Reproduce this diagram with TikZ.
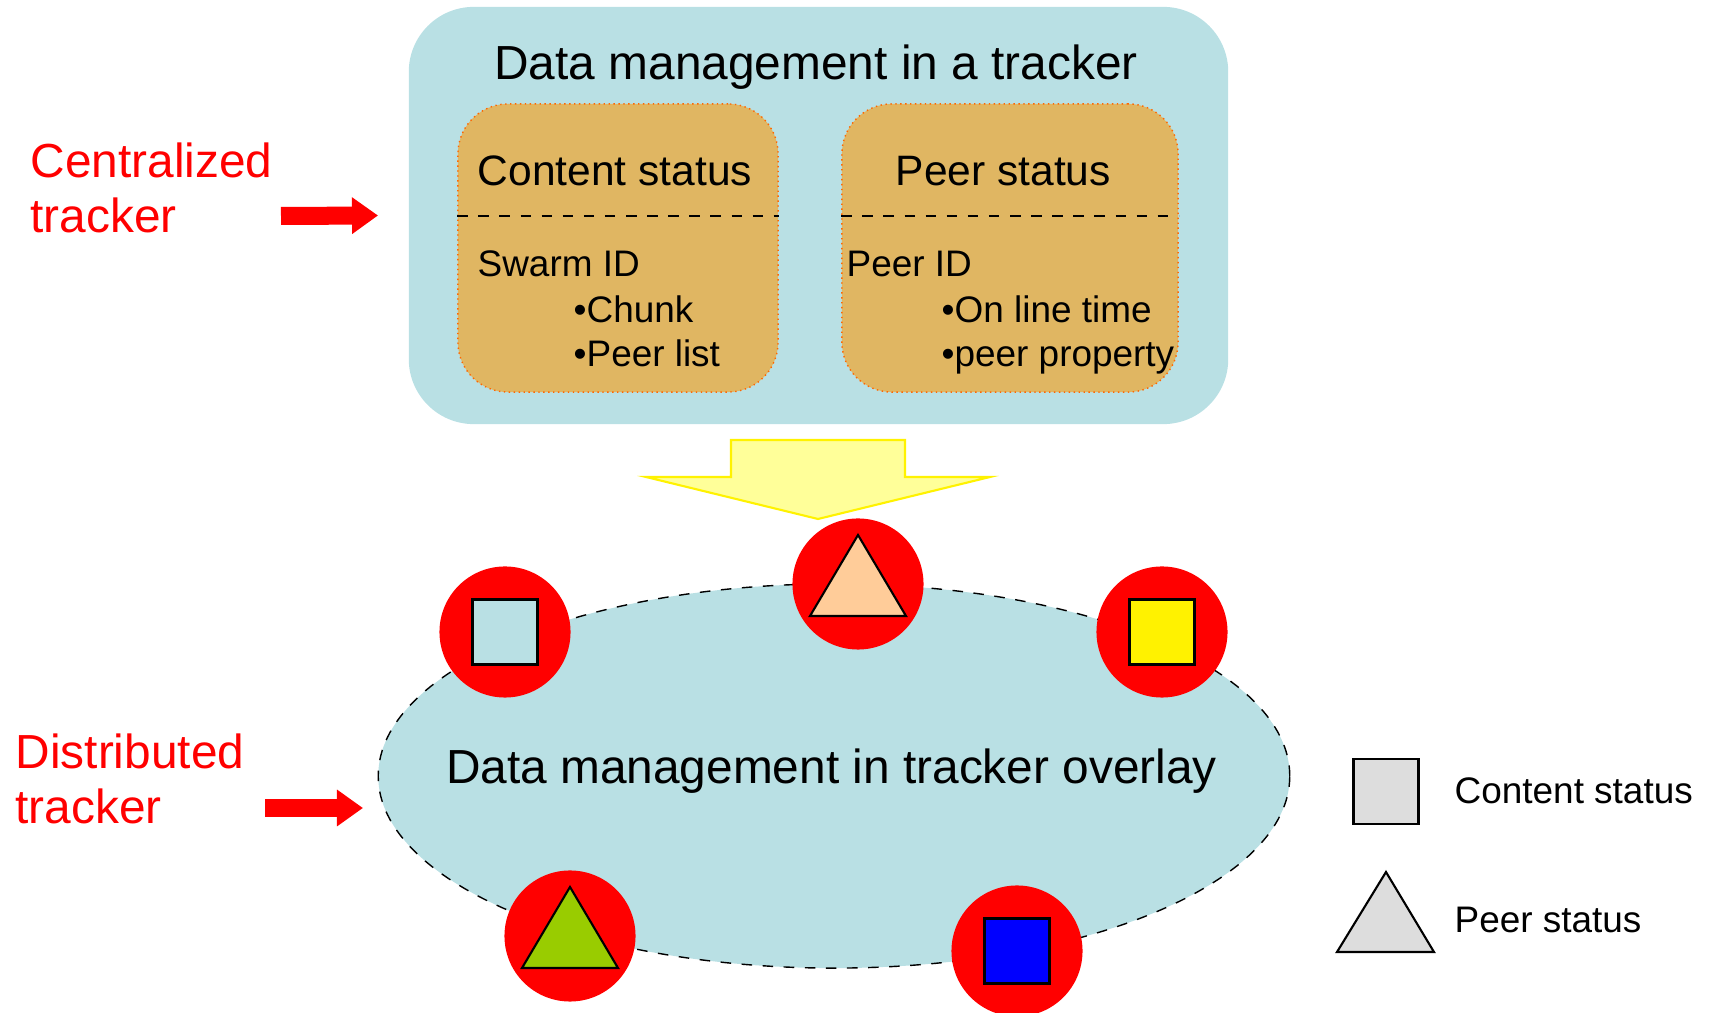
\documentclass[tikz,border=0pt]{standalone}
\usepackage{fontspec}
\setmainfont{Liberation Sans}
\usetikzlibrary{arrows.meta,shapes.geometric}
\usepackage{xcolor}
\definecolor{trackblue}{RGB}{185,224,228}
\definecolor{statustan}{RGB}{224,182,98}
\definecolor{edgeorange}{RGB}{255,102,0}
\definecolor{lightyellow}{RGB}{255,255,153}
\definecolor{peach}{RGB}{255,204,153}
\definecolor{leafgreen}{RGB}{153,204,0}
\definecolor{legendgray}{RGB}{221,221,221}

\begin{document}
\begin{tikzpicture}[x=0.01cm,y=-0.01cm,
		bigtext/.style={font=\fontsize{13.6}{15.6}\selectfont, inner sep=0},
		midtext/.style={font=\fontsize{12.1}{14.5}\selectfont, inner sep=0},
		smalltext/.style={font=\fontsize{10.5}{12.6}\selectfont, inner sep=0},
		statusbox/.style={fill=statustan, draw=edgeorange, densely dotted, thin, rounded corners=0.5cm, minimum height=2.88cm, inner sep=0},
		peer/.style={circle, fill=red, minimum size=1.31cm, inner sep=0},
		mark square/.style={draw=black, line width=0.6pt, minimum size=0.65cm, inner sep=0},
		mark tri/.style={draw=black, line width=0.6pt},
		redarrow/.style={red, line width=0.18cm, -{Triangle[length=0.26cm,width=0.35cm]}}]
		\useasboundingbox (0,0) rectangle (1711,1013);
		\node[fill=trackblue, rounded corners=0.65cm, minimum width=8.19cm, minimum height=4.17cm, inner sep=0] (tracker) at (818.5,215.5) {};
		\node[statusbox, minimum width=3.2cm] (content) at (618,248) {};
		\node[statusbox, minimum width=3.36cm] (peerbox) at (1010,248) {};
		\draw[dashed] (content.west |- 0,216) -- (content.east |- 0,216);
		\draw[dashed] (peerbox.west |- 0,216) -- (peerbox.east |- 0,216);
		\node[bigtext, anchor=base] (title) at (816,80) {Data management in a tracker};
		\node[midtext, anchor=base west] (ctitle) at (477,186) {Content status};
		\node[midtext, anchor=base west] (ptitle) at (895,186) {Peer status};
		\node[smalltext, anchor=base west] (swarm) at (477,277) {Swarm ID};
		\node[smalltext, anchor=base west] (chunk) at (573,323) {•Chunk};
		\node[smalltext, anchor=base west] (plist) at (573,367) {•Peer list};
		\node[smalltext, anchor=base west] (peerid) at (846,277) {Peer ID};
		\node[smalltext, anchor=base west] (online) at (941,323) {•On line time};
		\node[smalltext, anchor=base west] (prop) at (941,367) {•peer property};

		\draw[yellow, line width=0.6pt, fill=lightyellow] (731,440) -- (905,440) -- (905,477) -- (990,477) -- (818,519) -- (646,477) -- (731,477) -- cycle;

		\node[ellipse, fill=trackblue, draw=black, dashed, thin, minimum width=9.11cm, minimum height=3.84cm, inner sep=0] (overlay) at (834,776) {};
		\node[bigtext, anchor=base] (otext) at (831.5,784) {Data management in tracker overlay};

		\node[peer] (n1) at (505,632) {};
		\node[peer] (n2) at (858,584) {};
		\node[peer] (n3) at (1162,632) {};
		\node[peer] (n4) at (570,936) {};
		\node[peer] (n5) at (1017,951) {};
		\node[mark square, fill=trackblue] (s1) at (n1) {};
		\node[mark square, fill=yellow] (s3) at (n3) {};
		\node[mark square, fill=blue] (s5) at (n5) {};
		\draw[mark tri, fill=peach] (n2) ++(-48,32) -- ++(48,-81) -- ++(48,81) -- cycle;
		\draw[mark tri, fill=leafgreen] (n4) ++(-48,32) -- ++(48,-81) -- ++(48,81) -- cycle;

		\node[bigtext, red, anchor=north west, align=left] (central) at (30,142) {Centralized\\tracker};
		\node[bigtext, red, anchor=north west, align=left] (distrib) at (15,733) {Distributed\\tracker};
		\coordinate (cfrom) at (281,216);
		\coordinate (dfrom) at (265,808);
		\coordinate (dto) at (363,808);
		\draw[redarrow] (cfrom) -- ([xshift=-0.3cm]tracker.west);
		\draw[redarrow] (dfrom) -- (dto);

		\node[mark square, fill=legendgray] (lsq) at (1386,791.5) {};
		\draw[mark tri, fill=legendgray] (1337,952) -- (1386,872) -- (1434,952) -- cycle;
		\node[smalltext, anchor=base west] (lcontent) at (1454,804) {Content status};
		\node[smalltext, anchor=base west] (lpeer) at (1454,933) {Peer status};
		\end{tikzpicture}
\end{document}
